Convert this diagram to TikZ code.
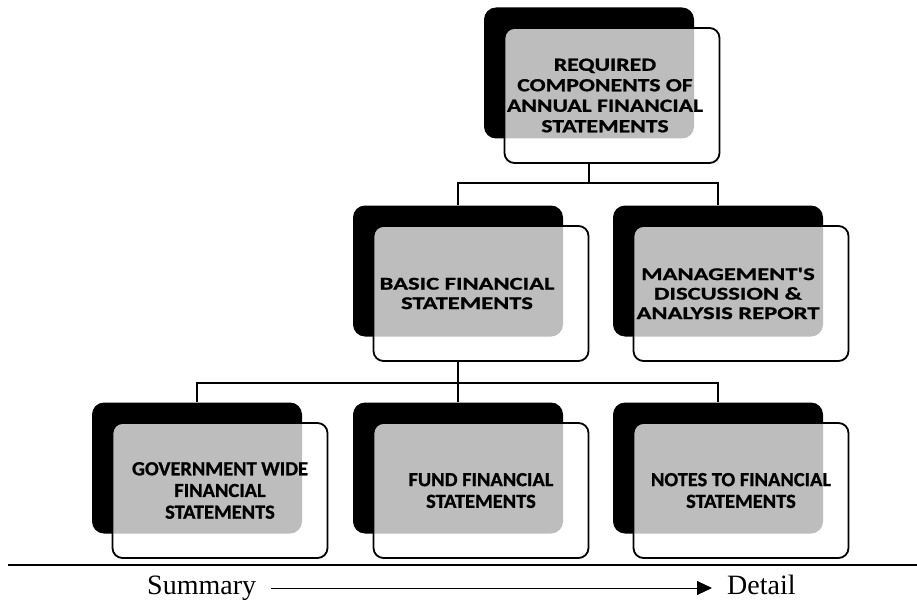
\documentclass[tikz,border=0pt]{standalone}
\usepackage{fontspec}
\setmainfont{Liberation Serif}
% bold label faces, widened per tier
\newfontfamily\topfont[FakeStretch=1.28, FakeBold=1]{Carlito Bold}
\newfontfamily\midfont[FakeStretch=1.37, FakeBold=1]{Carlito Bold}
\newfontfamily\lowfont[FakeStretch=1.02, FakeBold=1]{Carlito Bold}
\usetikzlibrary{arrows.meta}
\begin{document}
\begin{tikzpicture}[x=1pt,y=-1pt,
  backbox/.style={fill=black, rounded corners=12pt, minimum width=210pt,
    minimum height=131pt, inner sep=0pt},
  frontbox/.style={draw=black, line width=1.8pt, fill=white, fill opacity=0.74,
    rounded corners=10pt, minimum width=215pt, minimum height=135pt, inner sep=0pt},
  boxtext/.style={align=center, inner sep=0pt},
  toptext/.style={boxtext, font=\topfont\fontsize{18.5}{20.5}\selectfont},
  midtext/.style={boxtext, font=\midfont\fontsize{17.9}{19.5}\selectfont},
  lowtext/.style={boxtext, font=\lowfont\fontsize{20}{21.7}\selectfont},
  conn/.style={line width=1.8pt},
  caption/.style={font=\fontsize{28}{30}\selectfont, inner sep=0pt,
    text height=19pt, text depth=6pt}]
\useasboundingbox (0,0) rectangle (917,604);

% shadow boxes
\node[backbox] (rq-b)    at (589,73)  {};
\node[backbox] (basic-b) at (458,271) {};
\node[backbox] (mda-b)   at (718,271) {};
\node[backbox] (gov-b)   at (197,468) {};
\node[backbox] (fund-b)  at (458,468) {};
\node[backbox] (notes-b) at (718,468) {};

% translucent front boxes
\node[frontbox] (rq-f)    at ([shift={(23,22.5)}]rq-b.center)    {};
\node[frontbox] (basic-f) at ([shift={(23,22.5)}]basic-b.center) {};
\node[frontbox] (mda-f)   at ([shift={(23,22.5)}]mda-b.center)   {};
\node[frontbox] (gov-f)   at ([shift={(23,22.5)}]gov-b.center)   {};
\node[frontbox] (fund-f)  at ([shift={(23,22.5)}]fund-b.center)  {};
\node[frontbox] (notes-f) at ([shift={(23,22.5)}]notes-b.center) {};

% labels
\node[toptext] (rq-t)    at ([xshift=-7pt]rq-f.center)     {REQUIRED\\COMPONENTS OF\\ANNUAL FINANCIAL\\STATEMENTS};
\node[midtext] (basic-t) at ([xshift=-14pt]basic-f.center) {BASIC FINANCIAL\\STATEMENTS};
\node[midtext] (mda-t)   at ([xshift=-13pt]mda-f.center)   {MANAGEMENT'S\\DISCUSSION \&\\ANALYSIS REPORT};
\node[lowtext] (gov-t)   at (gov-f.center)   {GOVERNMENT WIDE\\FINANCIAL\\STATEMENTS};
\node[lowtext] (fund-t)  at (fund-f.center)  {FUND FINANCIAL\\STATEMENTS};
\node[lowtext] (notes-t) at (notes-f.center) {NOTES TO FINANCIAL\\STATEMENTS};

% tree connectors
\coordinate (bus1) at (589,183);
\coordinate (bus2) at (458,383);
\draw[conn] (rq-b.center |- rq-f.south) -- (bus1);
\draw[conn] (basic-b.north) |- (bus1) -| (mda-b.north);
\draw[conn] (basic-b.center |- basic-f.south) -- (bus2);
\draw[conn] (gov-b.north) |- (bus2) -| (notes-b.north);
\draw[conn] (bus2) -- (fund-b.north);

% summary-to-detail scale
\coordinate (rule-l) at (8,565);
\coordinate (rule-r) at (917,565);
\draw[line width=1.6pt] (rule-l) -- (rule-r);
\node[caption, anchor=base west] (sum) at (147,594.5) {Summary};
\node[caption, anchor=base west] (det) at (727,594.5) {Detail};
\draw[line width=0.9pt, -{Triangle[length=15pt,width=14pt]},
  shorten <=15pt, shorten >=15pt] (sum.east) -- (det.west);
\end{tikzpicture}
\end{document}
